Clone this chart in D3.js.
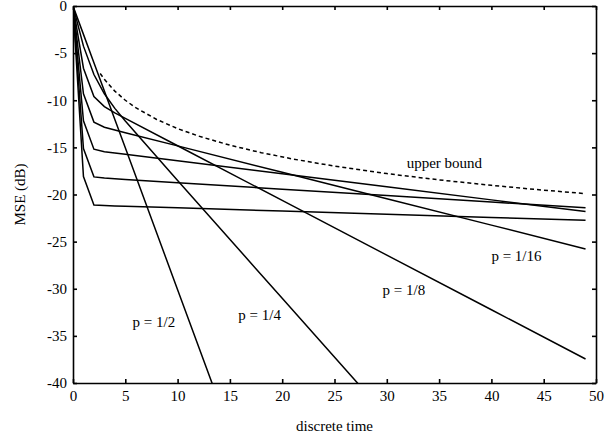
<!DOCTYPE html>
<html>
<head>
<meta charset="utf-8">
<script src="https://cdn.jsdelivr.net/npm/d3@7"></script>
<style>
  body { margin: 0; background: #fff; }
  .axis path, .axis line { stroke: #000; stroke-width: 1.6; }
</style>
</head>
<body>
<div class="chart"></div>
<script>
const WIDTH = 615;
const HEIGHT = 440;
const MARGIN = {TOP: 6, BOTTOM: 57, RIGHT: 19, LEFT: 73};
const innerWidth = WIDTH - MARGIN.LEFT - MARGIN.RIGHT;
const innerHeight = HEIGHT - MARGIN.TOP - MARGIN.BOTTOM;
const FONT = '"Liberation Serif", "Times New Roman", "DejaVu Serif", serif';

// discrete time samples (lines are straight in dB after the first few steps)
var time = [0, 1, 2, 3, 4, 5, 10, 20, 30, 40, 49];

// MSE in dB, one array per p
var mseHalf      = [0, -3.01, -6.02, -9.03, -12.04, -15.05, -30.10, -60.2, -90.3, -120.4, -147.5];
var mseQuarter   = [0, -4.26, -7.27, -9.31, -10.86, -12.21, -18.51, -31.01, -43.50, -56.0, -67.24];
var mseEighth    = [0, -6.60, -9.61, -10.68, -11.34, -11.93, -14.83, -20.63, -26.43, -32.23, -37.45];
var mse16        = [0, -9.31, -12.32, -12.86, -13.16, -13.44, -14.84, -17.65, -20.45, -23.25, -25.78];
var mse32        = [0, -12.18, -15.19, -15.46, -15.60, -15.74, -16.43, -17.81, -19.19, -20.57, -21.81];
var mse64        = [0, -15.12, -18.13, -18.26, -18.34, -18.40, -18.75, -19.43, -20.11, -20.80, -21.41];
var mse128       = [0, -18.10, -21.11, -21.17, -21.21, -21.24, -21.41, -21.75, -22.09, -22.43, -22.74];

// upper bound (dashed)
var boundTime = [2.6, 3, 4, 5, 6, 8, 10, 12, 15, 18, 21, 25, 30, 35, 40, 45, 49];
var boundMse  = [-7.16, -7.78, -9.03, -10.0, -10.79, -12.04, -13.01, -13.80, -14.77, -15.56, -16.23, -16.99, -17.78, -18.45, -19.03, -19.54, -19.91];

var xTicks = [0, 5, 10, 15, 20, 25, 30, 35, 40, 45, 50];
var yTicks = [0, -5, -10, -15, -20, -25, -30, -35, -40];

var labelText = ['upper bound', 'p = 1/16', 'p = 1/8', 'p = 1/4', 'p = 1/2'];
var labelT    = [31.9, 40.0, 29.6, 15.8, 5.7];
var labelDb   = [-17.2, -27.1, -30.7, -33.3, -34.1];

var xScale = d3.scaleLinear().range([0, innerWidth]).domain([0, 50]);
var yScale = d3.scaleLinear().range([0, innerHeight]).domain([0, -40]);

var svg = d3.select('.chart').append('svg')
    .attr('width', WIDTH)
    .attr('height', HEIGHT);

var mainGroup = svg.append('g')
    .attr('transform', 'translate(' + MARGIN.LEFT + ',' + MARGIN.TOP + ')');

mainGroup.append('clipPath').attr('id', 'clip')
    .append('rect')
    .attr('width', innerWidth)
    .attr('height', innerHeight);

var line = d3.line()
    .x(function (d) { return xScale(d[0]); })
    .y(function (d) { return yScale(d[1]); });

var curves = [mseHalf, mseQuarter, mseEighth, mse16, mse32, mse64, mse128];
var lineG = mainGroup.append('g').attr('clip-path', 'url(#clip)');

curves.forEach(function (vals) {
    lineG.append('path')
        .datum(d3.zip(time, vals))
        .attr('d', line)
        .attr('fill', 'none')
        .attr('stroke', '#000')
        .attr('stroke-width', 1.5);
});

lineG.append('path')
    .datum(d3.zip(boundTime, boundMse))
    .attr('d', line)
    .attr('fill', 'none')
    .attr('stroke', '#000')
    .attr('stroke-width', 1.5)
    .attr('stroke-dasharray', '4,3');

// axes, box with inward ticks on all sides
var xAxis = d3.axisBottom(xScale).tickValues(xTicks).tickSizeInner(-4).tickSizeOuter(0).tickPadding(7);
var yAxis = d3.axisLeft(yScale).tickValues(yTicks).tickSizeInner(-4).tickSizeOuter(0).tickPadding(6)
    .tickFormat(function (d) { return String(d); });
var xTop = d3.axisTop(xScale).tickValues(xTicks).tickSizeInner(-4).tickSizeOuter(0);
var yRight = d3.axisRight(yScale).tickValues(yTicks).tickSizeInner(-4).tickSizeOuter(0);

mainGroup.append('g').attr('class', 'axis').call(xTop)
    .selectAll('text').remove();
mainGroup.append('g').attr('class', 'axis')
    .attr('transform', 'translate(' + innerWidth + ',0)').call(yRight)
    .selectAll('text').remove();
mainGroup.append('g').attr('class', 'axis')
    .attr('transform', 'translate(0,' + innerHeight + ')').call(xAxis);
mainGroup.append('g').attr('class', 'axis').call(yAxis);
mainGroup.selectAll('.axis')
    .attr('font-family', FONT)
    .attr('font-size', 15);
mainGroup.selectAll('.axis text').attr('fill', '#000');

// curve labels
labelText.forEach(function (txt, i) {
    mainGroup.append('text')
        .attr('x', xScale(labelT[i]))
        .attr('y', yScale(labelDb[i]))
        .attr('font-family', FONT)
        .attr('font-size', 15)
        .text(txt);
});

svg.append('text')
    .attr('x', MARGIN.LEFT + innerWidth / 2)
    .attr('y', 431)
    .attr('text-anchor', 'middle')
    .attr('font-family', FONT)
    .attr('font-size', 15)
    .text('discrete time');

svg.append('text')
    .attr('transform', 'translate(25,' + (MARGIN.TOP + innerHeight / 2) + ') rotate(-90)')
    .attr('text-anchor', 'middle')
    .attr('font-family', FONT)
    .attr('font-size', 15)
    .text('MSE (dB)');
</script>
</body>
</html>
